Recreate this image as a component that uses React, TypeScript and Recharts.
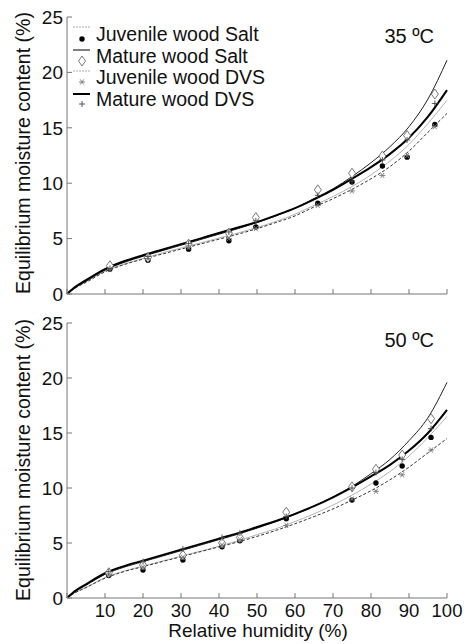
import React from "react";
import { ComposedChart, Line, Scatter, XAxis, YAxis } from "recharts";

// relative humidity grid used for the fitted isotherm curves
const curveRH = [0, 2, 5, 10, 15, 20, 25, 30, 35, 40, 45, 50, 55, 60, 65, 70, 75, 80, 85, 90, 95, 100];

// 35 ºC fitted curves
const juvSalt35 = [0, 0.5, 1.1, 2.05, 2.7, 3.2, 3.7, 4.15, 4.6, 5.05, 5.5, 6.0, 6.55, 7.2, 8.0, 8.8, 9.7, 10.75, 12.0, 13.5, 15.4, 17.5];
const matSalt35 = [0, 0.55, 1.15, 2.15, 2.85, 3.4, 3.9, 4.4, 4.9, 5.4, 5.9, 6.45, 7.05, 7.75, 8.6, 9.5, 10.6, 11.85, 13.3, 15.1, 17.6, 21.1];
const juvDVS35 = [0, 0.5, 1.05, 2.0, 2.65, 3.15, 3.6, 4.05, 4.5, 4.95, 5.4, 5.9, 6.45, 7.05, 7.85, 8.6, 9.45, 10.4, 11.5, 12.9, 14.6, 16.3];
const matDVS35 = [0, 0.6, 1.25, 2.25, 2.95, 3.5, 4.0, 4.5, 5.0, 5.5, 6.0, 6.5, 7.1, 7.75, 8.55, 9.4, 10.4, 11.45, 12.65, 14.1, 16.0, 18.4];

// 50 ºC fitted curves
const juvSalt50 = [0, 0.45, 0.95, 1.85, 2.45, 2.9, 3.35, 3.8, 4.25, 4.7, 5.2, 5.75, 6.3, 6.95, 7.65, 8.45, 9.35, 10.35, 11.5, 12.9, 14.6, 16.5];
const matSalt50 = [0, 0.55, 1.15, 2.15, 2.8, 3.3, 3.8, 4.3, 4.8, 5.3, 5.8, 6.35, 6.95, 7.6, 8.35, 9.2, 10.15, 11.3, 12.6, 14.3, 16.4, 19.6];
const juvDVS50 = [0, 0.45, 0.95, 1.8, 2.4, 2.85, 3.3, 3.75, 4.2, 4.65, 5.1, 5.6, 6.15, 6.75, 7.4, 8.1, 8.9, 9.75, 10.75, 11.9, 13.2, 14.5];
const matDVS50 = [0, 0.6, 1.25, 2.25, 2.9, 3.4, 3.9, 4.4, 4.9, 5.4, 5.9, 6.45, 7.0, 7.65, 8.35, 9.15, 10.05, 11.05, 12.1, 13.4, 15.0, 17.1];

// measured points, 35 ºC
const rh35 = [11.3, 21.3, 32, 42.6, 49.7, 66, 75, 83, 89.5, 96.8];
const juvSaltPts35 = [2.25, 3.05, 4.05, 4.8, 6.05, 8.2, 10.1, 11.55, 12.35, 15.3];
const matSaltPts35 = [2.55, 3.3, 4.5, 5.5, 6.9, 9.4, 10.9, 12.45, 14.3, 18.05];
const juvDVSPts35 = [2.2, 3.2, 4.2, 5.0, 5.9, 8.0, 9.3, 10.7, 12.5, 15.1];
const matDVSPts35 = [2.3, 3.4, 4.55, 5.6, 6.6, 8.9, 10.2, 12.1, 13.9, 17.2];

// measured points, 50 ºC
const rh50 = [11, 20, 30.5, 40.8, 45.5, 57.7, 75, 81.3, 88.2, 95.8];
const juvSaltPts50 = [2.05, 2.55, 3.45, 4.65, 5.2, 7.2, 8.9, 10.45, 12.0, 14.6];
const matSaltPts50 = [2.3, 3.0, 3.9, 5.0, 5.5, 7.8, 10.1, 11.7, 13.0, 16.3];
const juvDVSPts50 = [2.1, 2.8, 3.7, 4.8, 5.3, 6.6, 9.0, 9.7, 11.2, 13.45];
const matDVSPts50 = [2.4, 3.3, 4.45, 5.5, 5.9, 7.4, 10.0, 11.4, 12.6, 15.4];

const seriesNames = ["Juvenile wood Salt", "Mature wood Salt", "Juvenile wood DVS", "Mature wood DVS"];
const xTicks = [0, 10, 20, 30, 40, 50, 60, 70, 80, 90, 100];
const yTicks = [0, 5, 10, 15, 20, 25];

const FONT = '"Liberation Sans", Arial, Helvetica, sans-serif';
const AXIS = "#777";
const INK = "#111";

const lineStyles = [
  { stroke: "#b4b4b4", strokeWidth: 1 },
  { stroke: "#222", strokeWidth: 1 },
  { stroke: "#333", strokeWidth: 1, strokeDasharray: "3 2" },
  { stroke: "#000", strokeWidth: 2 },
];

const toPts = (xs: number[], ys: number[]) => xs.map((x, i) => ({ x, y: ys[i] }));

function Marker({ kind, cx, cy }: { kind: number; cx: number; cy: number }) {
  if (kind === 0) return <circle cx={cx} cy={cy} r={2.7} fill="#000" />;
  if (kind === 1)
    return (
      <polygon
        points={`${cx},${cy - 5} ${cx + 3.5},${cy} ${cx},${cy + 5} ${cx - 3.5},${cy}`}
        fill="#fff"
        stroke="#555"
        strokeWidth={0.8}
      />
    );
  if (kind === 2)
    return (
      <g stroke="#777" strokeWidth={0.9}>
        <line x1={cx - 3} y1={cy} x2={cx + 3} y2={cy} />
        <line x1={cx - 1.8} y1={cy - 2.6} x2={cx + 1.8} y2={cy + 2.6} />
        <line x1={cx - 1.8} y1={cy + 2.6} x2={cx + 1.8} y2={cy - 2.6} />
      </g>
    );
  return (
    <g stroke="#444" strokeWidth={0.9}>
      <line x1={cx - 3} y1={cy} x2={cx + 3} y2={cy} />
      <line x1={cx} y1={cy - 3} x2={cx} y2={cy + 3} />
    </g>
  );
}

function BottomTick(props: any) {
  const { x, y, payload, showLabel } = props;
  return (
    <g>
      <line x1={x} y1={y} x2={x} y2={y - 5} stroke={AXIS} />
      {showLabel && payload.value !== 0 && (
        <text x={x} y={y + 19} textAnchor="middle" fontSize={18.5} fontFamily={FONT} fill={INK}>
          {payload.value}
        </text>
      )}
    </g>
  );
}

function TopTick(props: any) {
  const { x, y } = props;
  return <line x1={x} y1={y} x2={x} y2={y + 5} stroke={AXIS} />;
}

function LeftTick(props: any) {
  const { x, y, payload } = props;
  return (
    <g>
      <line x1={x} y1={y} x2={x + 5} y2={y} stroke={AXIS} />
      <text x={x - 4} y={y} dy="0.36em" textAnchor="end" fontSize={19} fontFamily={FONT} fill={INK}>
        {payload.value}
      </text>
    </g>
  );
}

function RightTick(props: any) {
  const { x, y } = props;
  return <line x1={x} y1={y} x2={x - 5} y2={y} stroke={AXIS} />;
}

function Panel({
  curves,
  rh,
  points,
  height,
  bottomHeight,
  showXLabels,
}: {
  curves: number[][];
  rh: number[];
  points: number[][];
  height: number;
  bottomHeight: number;
  showXLabels: boolean;
}) {
  return (
    <ComposedChart width={464} height={height} margin={{ top: 17, right: 17, bottom: 0, left: 0 }}>
      <XAxis
        xAxisId="b"
        dataKey="x"
        type="number"
        domain={[0, 100]}
        ticks={xTicks}
        interval={0}
        height={bottomHeight}
        tickSize={0}
        tickMargin={0}
        stroke={AXIS}
        tick={(p: any) => <BottomTick {...p} showLabel={showXLabels} />}
      />
      <XAxis
        xAxisId="t"
        orientation="top"
        dataKey="x"
        type="number"
        domain={[0, 100]}
        ticks={xTicks}
        interval={0}
        height={0}
        tickSize={0}
        tickMargin={0}
        stroke={AXIS}
        tick={(p: any) => <TopTick {...p} />}
      />
      <YAxis
        yAxisId="l"
        type="number"
        domain={[0, 25]}
        ticks={yTicks}
        interval={0}
        width={67}
        tickSize={0}
        tickMargin={0}
        allowDataOverflow
        stroke={AXIS}
        tick={(p: any) => <LeftTick {...p} />}
      />
      <YAxis
        yAxisId="r"
        orientation="right"
        type="number"
        domain={[0, 25]}
        ticks={yTicks}
        interval={0}
        width={0}
        tickSize={0}
        tickMargin={0}
        stroke={AXIS}
        tick={(p: any) => <RightTick {...p} />}
      />
      {curves.map((c, i) => (
        <Line
          key={"c" + i}
          xAxisId="b"
          yAxisId="l"
          data={toPts(curveRH, c)}
          dataKey="y"
          type="monotone"
          dot={false}
          activeDot={false}
          isAnimationActive={false}
          {...lineStyles[i]}
        />
      ))}
      {points.map((p, i) => (
        <Scatter
          key={"p" + i}
          xAxisId="b"
          yAxisId="l"
          data={toPts(rh, p)}
          dataKey="y"
          isAnimationActive={false}
          shape={(s: any) => <Marker kind={i} cx={s.cx} cy={s.cy} />}
        />
      ))}
    </ComposedChart>
  );
}

function Overlay() {
  const lineY = [27, 50, 71, 94];
  const markY = [39, 61, 82, 104];
  const textY = [41, 62.5, 84, 105.5];
  return (
    <svg
      width={464}
      height={644}
      style={{ position: "absolute", left: 0, top: 0, pointerEvents: "none" }}
      fontFamily={FONT}
      fill={INK}
    >
      {seriesNames.map((name, i) => (
        <g key={name}>
          <line
            x1={73}
            x2={90}
            y1={lineY[i]}
            y2={lineY[i]}
            stroke={i === 0 || i === 2 ? "#aaa" : "#000"}
            strokeWidth={i === 3 ? 2 : 1}
            strokeDasharray={i === 0 || i === 2 ? "2 1" : undefined}
          />
          <Marker kind={i} cx={82} cy={markY[i]} />
          <text x={96} y={textY[i]} fontSize={19.5}>
            {name}
          </text>
        </g>
      ))}
      <text x={434} y={43} textAnchor="end" fontSize={20}>
        35 ºC
      </text>
      <text x={434} y={347} textAnchor="end" fontSize={20}>
        50 ºC
      </text>
      <text transform="translate(30,153) rotate(-90)" textAnchor="middle" fontSize={19.5}>
        Equilibrium moisture content (%)
      </text>
      <text transform="translate(30,460) rotate(-90)" textAnchor="middle" fontSize={19.5}>
        Equilibrium moisture content (%)
      </text>
      <text x={258} y={637} textAnchor="middle" fontSize={19}>
        Relative humidity (%)
      </text>
    </svg>
  );
}

export default function App() {
  return (
    <div style={{ position: "absolute", left: 0, top: 0, width: 464, height: 644, background: "#fff" }}>
      <div style={{ position: "absolute", left: 0, top: 0 }}>
        <Panel
          curves={[juvSalt35, matSalt35, juvDVS35, matDVS35]}
          rh={rh35}
          points={[juvSaltPts35, matSaltPts35, juvDVSPts35, matDVSPts35]}
          height={306}
          bottomHeight={12}
          showXLabels={false}
        />
      </div>
      <div style={{ position: "absolute", left: 0, top: 306 }}>
        <Panel
          curves={[juvSalt50, matSalt50, juvDVS50, matDVS50]}
          rh={rh50}
          points={[juvSaltPts50, matSaltPts50, juvDVSPts50, matDVSPts50]}
          height={338}
          bottomHeight={46}
          showXLabels={true}
        />
      </div>
      <Overlay />
    </div>
  );
}
